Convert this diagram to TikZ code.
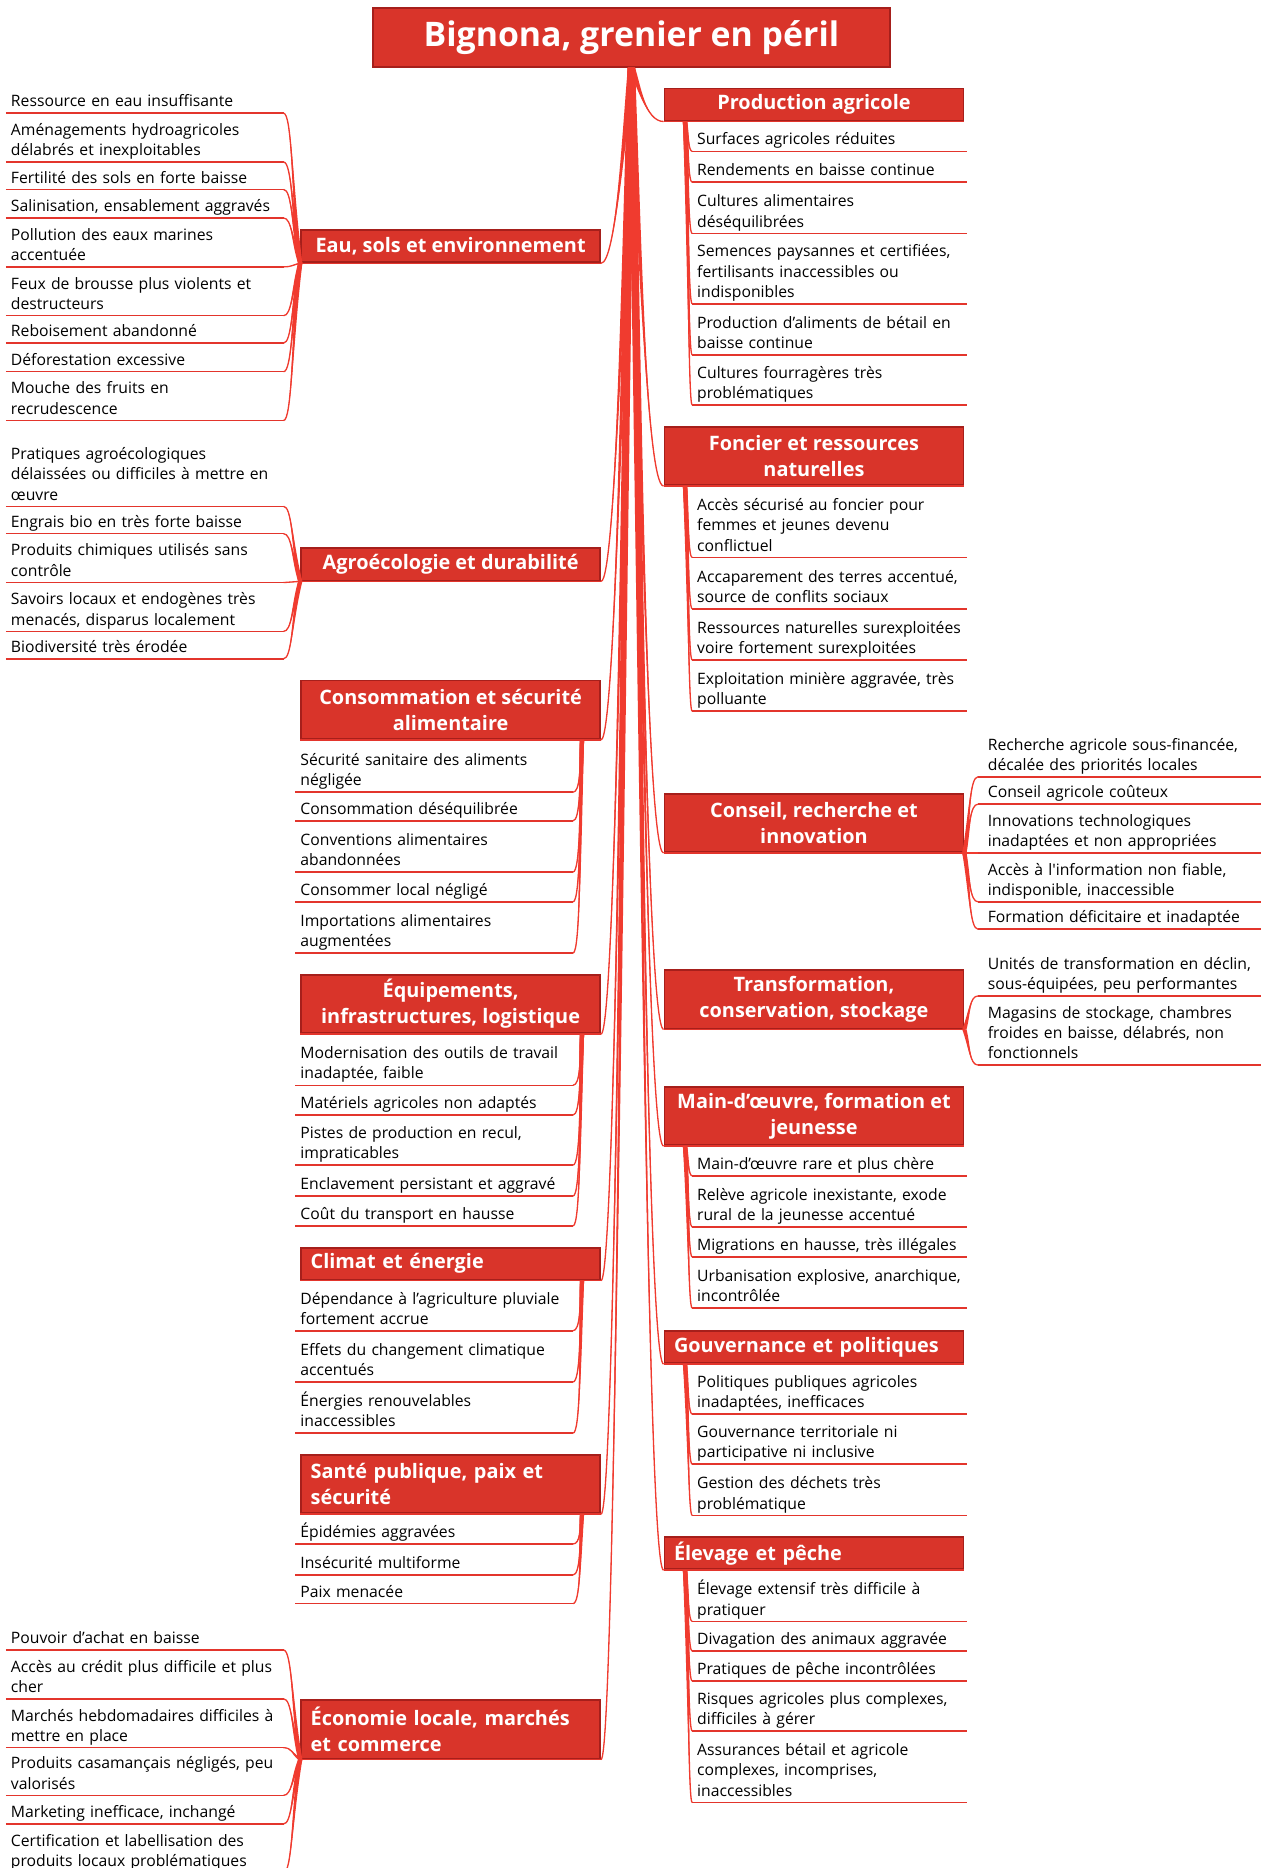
\documentclass[tikz,border=0pt]{standalone}
\usepackage{fontspec}
\setmainfont{Open Sans}
\usetikzlibrary{calc}
\definecolor{boxred}{HTML}{D9342A}
\definecolor{boxedge}{HTML}{A61F1B}
\definecolor{limbred}{HTML}{F03B2F}
\definecolor{linered}{HTML}{E3352C}

\tikzset{
  branch/.style={fill=boxred, draw=boxedge, line width=1.5pt, text=white,
    font=\fontsize{16.7}{22}\selectfont\bfseries, minimum width=251pt,
    inner xsep=6pt, inner ysep=2pt, align=center, anchor=south west},
  lbranch/.style={branch, text width=235pt, inner xsep=8pt, align=left},
  onerow/.style={minimum height=27pt},
  tworow/.style={minimum height=49pt},
  leaf/.style={font=\fontsize{13.2}{17}\selectfont, text width=240pt, align=left,
    inner xsep=4pt, inner ysep=0pt, execute at end node=\strut, anchor=south west},
  farleaf/.style={leaf, inner xsep=8pt},
  uline/.style={linered, line width=1.3pt},
  limb/.style={limbred, line width=1.1pt}
}

% tapered connector: [half width] from, to, x of first control, x of second control, share of the drop
\newcommand{\limb}[6][1.8]{%
  \fill[limbred] let \p1=#2, \p2=#3 in
    (\x1-#1pt,\y1) .. controls (#4pt-0.5*#1pt,{\y1+#6*(\y2-\y1)}) and (#5pt,\y2) .. (\x2,\y2)
    .. controls (#5pt,\y2) and (#4pt+0.5*#1pt,{\y1+#6*(\y2-\y1)}) .. (\x1+#1pt,\y1) -- cycle;
  \draw[limb] let \p1=#2, \p2=#3 in
    (\p1) .. controls (#4pt,{\y1+#6*(\y2-\y1)}) and (#5pt,\y2) .. (\p2);
}

\begin{document}
\begin{tikzpicture}[x=1pt, y=-1pt]
\useasboundingbox (0,0) rectangle (1058,1568);
\fill[white] (0,0) rectangle (1058,1568);

% titre
\node[branch, font=\fontsize{28.4}{32}\selectfont\bfseries, minimum width=434pt, minimum height=49pt, anchor=center] (titre) at (530,31.5) {Bignona, grenier en péril};

% branches, gauche
\node[branch, onerow] (eau) at (252,221) {Eau, sols et environnement};
\node[branch, onerow] (agro) at (252,488) {Agroécologie et durabilité};
\node[branch, tworow] (conso) at (252,621) {Consommation et sécurité\\alimentaire};
\node[branch, tworow] (equip) at (252,868) {Équipements,\\infrastructures, logistique};
\node[lbranch, onerow] (climat) at (252,1075) {Climat et énergie};
\node[lbranch, tworow] (sante) at (252,1271) {Santé publique, paix et\\sécurité};
\node[lbranch, tworow] (eco) at (252,1477) {Économie locale, marchés\\et commerce};

% branches, droite
\node[branch, onerow] (prod) at (557,102) {Production agricole};
\node[branch, tworow] (foncier) at (557,408) {Foncier et ressources\\naturelles};
\node[branch, tworow] (conseil) at (557,716) {Conseil, recherche et\\innovation};
\node[branch, tworow] (transfo) at (557,864) {Transformation,\\conservation, stockage};
\node[branch, tworow] (mainoe) at (557,962) {Main-d’œuvre, formation et\\jeunesse};
\node[lbranch, onerow] (gouv) at (557,1145) {Gouvernance et politiques};
\node[lbranch, onerow] (elevage) at (557,1318) {Élevage et pêche};

% eau, sols
\node[leaf] (e1) at (5,95) {Ressource en eau insuffisante};
\node[leaf] (e2) at (5,136) {Aménagements hydroagricoles\\délabrés et inexploitables};
\node[leaf] (e3) at (5,159) {Fertilité des sols en forte baisse};
\node[leaf] (e4) at (5,183) {Salinisation, ensablement aggravés};
\node[leaf] (e5) at (5,224) {Pollution des eaux marines\\accentuée};
\node[leaf] (e6) at (5,265) {Feux de brousse plus violents et\\destructeurs};
\node[leaf] (e7) at (5,288) {Reboisement abandonné};
\node[leaf] (e8) at (5,312) {Déforestation excessive};
\node[leaf] (e9) at (5,353) {Mouche des fruits en\\recrudescence};

% agroecologie
\node[leaf] (a1) at (5,425) {Pratiques agroécologiques\\délaissées ou difficiles à mettre en\\œuvre};
\node[leaf] (a2) at (5,448) {Engrais bio en très forte baisse};
\node[leaf] (a3) at (5,489) {Produits chimiques utilisés sans\\contrôle};
\node[leaf] (a4) at (5,530) {Savoirs locaux et endogènes très\\menacés, disparus localement};
\node[leaf] (a5) at (5,553) {Biodiversité très érodée};

% economie
\node[leaf] (o1) at (5,1385) {Pouvoir d’achat en baisse};
\node[leaf] (o2) at (5,1426) {Accès au crédit plus difficile et plus\\cher};
\node[leaf] (o3) at (5,1467) {Marchés hebdomadaires difficiles à\\mettre en place};
\node[leaf] (o4) at (5,1507) {Produits casamançais négligés, peu\\valorisés};
\node[leaf] (o5) at (5,1531) {Marketing inefficace, inchangé};
\node[leaf] (o6) at (5,1572) {Certification et labellisation des\\produits locaux problématiques};

% consommation
\node[leaf] (c1) at (248,665) {Sécurité sanitaire des aliments\\négligée};
\node[leaf] (c2) at (248,689) {Consommation déséquilibrée};
\node[leaf] (c3) at (248,732) {Conventions alimentaires\\abandonnées};
\node[leaf] (c4) at (248,757) {Consommer local négligé};
\node[leaf] (c5) at (248,800) {Importations alimentaires\\augmentées};

% equipements
\node[leaf] (q1) at (248,911) {Modernisation des outils de travail\\inadaptée, faible};
\node[leaf] (q2) at (248,936) {Matériels agricoles non adaptés};
\node[leaf] (q3) at (248,978) {Pistes de production en recul,\\impraticables};
\node[leaf] (q4) at (248,1004) {Enclavement persistant et aggravé};
\node[leaf] (q5) at (248,1029) {Coût du transport en hausse};

% climat
\node[leaf] (k1) at (248,1117) {Dépendance à l’agriculture pluviale\\fortement accrue};
\node[leaf] (k2) at (248,1160) {Effets du changement climatique\\accentués};
\node[leaf] (k3) at (248,1203) {Énergies renouvelables\\inaccessibles};

% sante
\node[leaf] (s1) at (248,1296) {Épidémies aggravées};
\node[leaf] (s2) at (248,1322) {Insécurité multiforme};
\node[leaf] (s3) at (248,1346) {Paix menacée};

% production
\node[leaf] (p1) at (581,127) {Surfaces agricoles réduites};
\node[leaf] (p2) at (581,153) {Rendements en baisse continue};
\node[leaf] (p3) at (581,196) {Cultures alimentaires\\déséquilibrées};
\node[leaf] (p4) at (581,255) {Semences paysannes et certifiées,\\fertilisants inaccessibles ou\\indisponibles};
\node[leaf] (p5) at (581,298) {Production d’aliments de bétail en\\baisse continue};
\node[leaf] (p6) at (581,340) {Cultures fourragères très\\problématiques};

% foncier
\node[leaf] (f1) at (581,468) {Accès sécurisé au foncier pour\\femmes et jeunes devenu\\conflictuel};
\node[leaf] (f2) at (581,511) {Accaparement des terres accentué,\\source de conflits sociaux};
\node[leaf] (f3) at (581,554) {Ressources naturelles surexploitées\\voire fortement surexploitées};
\node[leaf] (f4) at (581,597) {Exploitation minière aggravée, très\\polluante};

% main-d'oeuvre
\node[leaf] (m1) at (581,987) {Main-d’œuvre rare et plus chère};
\node[leaf] (m2) at (581,1030) {Relève agricole inexistante, exode\\rural de la jeunesse accentué};
\node[leaf] (m3) at (581,1055) {Migrations en hausse, très illégales};
\node[leaf] (m4) at (581,1098) {Urbanisation explosive, anarchique,\\incontrôlée};

% gouvernance
\node[leaf] (g1) at (581,1187) {Politiques publiques agricoles\\inadaptées, inefficaces};
\node[leaf] (g2) at (581,1229) {Gouvernance territoriale ni\\participative ni inclusive};
\node[leaf] (g3) at (581,1272) {Gestion des déchets très\\problématique};

% elevage
\node[leaf] (v1) at (581,1361) {Élevage extensif très difficile à\\pratiquer};
\node[leaf] (v2) at (581,1386) {Divagation des animaux aggravée};
\node[leaf] (v3) at (581,1411) {Pratiques de pêche incontrôlées};
\node[leaf] (v4) at (581,1453) {Risques agricoles plus complexes,\\difficiles à gérer};
\node[leaf] (v5) at (581,1513) {Assurances bétail et agricole\\complexes, incomprises,\\inaccessibles};

% conseil
\node[farleaf] (r1) at (821,652) {Recherche agricole sous-financée,\\décalée des priorités locales};
\node[farleaf] (r2) at (821,675) {Conseil agricole coûteux};
\node[farleaf] (r3) at (821,716) {Innovations technologiques\\inadaptées et non appropriées};
\node[farleaf] (r4) at (821,757) {Accès à l\textquotesingle information non fiable,\\indisponible, inaccessible};
\node[farleaf] (r5) at (821,780) {Formation déficitaire et inadaptée};

% transformation
\node[farleaf] (t1) at (821,836) {Unités de transformation en déclin,\\sous-équipées, peu performantes};
\node[farleaf] (t2) at (821,894) {Magasins de stockage, chambres\\froides en baisse, délabrés, non\\fonctionnels};

% liaisons du titre
\foreach \b in {eau,agro,conso,equip,climat,sante,eco} {
  \draw[uline] (\b.south west) -- (\b.south east);
  \limb[3]{(titre.south)}{(\b.south east)}{524}{517}{0.3}
}
\foreach \b in {prod,foncier,conseil,transfo,mainoe,gouv,elevage} {
  \draw[uline] (\b.south west) -- (\b.south east);
  \limb[3]{(titre.south)}{(\b.south west)}{536}{542}{0.3}
}

% liaisons des feuilles
\foreach \b/\l in {eau/{e1,e2,e3,e4,e5,e6,e7,e8,e9}, agro/{a1,a2,a3,a4,a5}, eco/{o1,o2,o3,o4,o5,o6}} {
  \foreach \f in \l {
    \draw[uline] (\f.south west) -- ++(233,0) coordinate (tip);
    \limb{(\b.south west)}{(tip)}{245}{245}{0.5}
  }
}
\foreach \b/\l in {conso/{c1,c2,c3,c4,c5}, equip/{q1,q2,q3,q4,q5}, climat/{k1,k2,k3}, sante/{s1,s2,s3}} {
  \coordinate (hub) at ($(\b.south east)+(-16,0)$);
  \foreach \f in \l {
    \draw[uline] (\f.south west) -- ++(233,0) coordinate (tip);
    \limb{(hub)}{(tip)}{487}{487}{0.5}
  }
}
\foreach \b/\l in {prod/{p1,p2,p3,p4,p5,p6}, foncier/{f1,f2,f3,f4}, mainoe/{m1,m2,m3,m4}, gouv/{g1,g2,g3}, elevage/{v1,v2,v3,v4,v5}} {
  \coordinate (hub) at ($(\b.south west)+(18,0)$);
  \foreach \f in \l {
    \draw[uline] (\f.south west) -- ++(231,0);
    \limb{(hub)}{(\f.south west)}{578}{578}{0.5}
  }
}
\foreach \b/\l in {conseil/{r1,r2,r3,r4,r5}, transfo/{t1,t2}} {
  \foreach \f in \l {
    \draw[uline] (\f.south west) -- ++(240,0);
    \limb{(\b.south east)}{(\f.south west)}{814}{814}{0.5}
  }
}
\end{tikzpicture}
\end{document}
